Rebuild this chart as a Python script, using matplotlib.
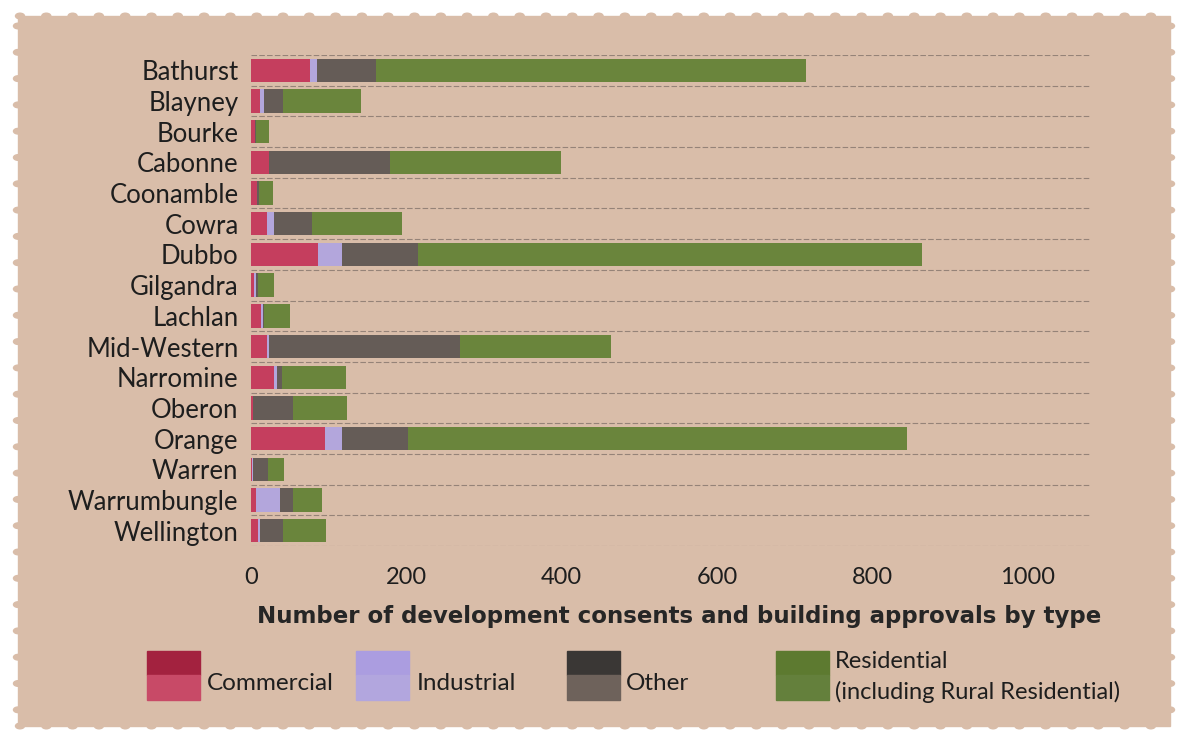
import numpy as np
import matplotlib
matplotlib.use('Agg')
import matplotlib.pyplot as plt
from matplotlib.patches import Rectangle, Circle

plt.rcParams['font.family'] = ['Lato', 'DejaVu Sans']

# data
councils = ['Bathurst', 'Blayney', 'Bourke', 'Cabonne', 'Coonamble', 'Cowra', 'Dubbo',
            'Gilgandra', 'Lachlan', 'Mid-Western', 'Narromine', 'Oberon', 'Orange',
            'Warren', 'Warrumbungle', 'Wellington']
commercial = [76, 12, 5, 23, 8, 20, 86, 4, 13, 20, 29, 2, 95, 1, 6, 9]
industrial = [9, 5, 0, 0, 0, 9, 31, 2, 3, 3, 4, 0, 22, 1, 31, 2]
other = [76, 24, 2, 156, 2, 50, 98, 3, 1, 246, 7, 52, 85, 20, 17, 30]
residential = [553, 100, 16, 220, 18, 115, 649, 21, 33, 195, 82, 69, 642, 20, 37, 55]
x_ticks = [0, 200, 400, 600, 800, 1000]

W, H = 1178, 735
BG = '#d9bda9'
COLORS = {'Commercial': '#c53e5e', 'Industrial': '#b3a6dc',
          'Other': '#655c57', 'Residential': '#6a853c'}
TXT = '#1e1e1e'


def fx(px):
    return px / W


def fy(py):
    return 1 - py / H


fig = plt.figure(figsize=(W / 100, H / 100), dpi=100, facecolor='white')

# stamp shaped backdrop
left, right, top, bottom = 18, 1170, 16, 726
fig.add_artist(Rectangle((fx(left), fy(bottom)), fx(right - left), (bottom - top) / H,
                         transform=fig.transFigure, color=BG, zorder=0))
for px in np.arange(left + 2, right, 26.3):
    for py in (top, bottom):
        fig.add_artist(Circle((fx(px), fy(py)), 4.5 / W, transform=fig.transFigure,
                              color=BG, zorder=0))
for py in np.arange(top + 10, bottom, 26.3):
    for px in (left, right):
        fig.add_artist(Circle((fx(px), fy(py)), 4.5 / W, transform=fig.transFigure,
                              color=BG, zorder=0))

ax = fig.add_axes([fx(251), fy(546), fx(1090 - 251), (546 - 55) / H])
ax.set_facecolor('none')

y = np.arange(len(councils))
lefts = np.zeros(len(councils))
for name, vals in [('Commercial', commercial), ('Industrial', industrial),
                   ('Other', other), ('Residential', residential)]:
    ax.barh(y, vals, left=lefts, height=0.76, color=COLORS[name], zorder=3)
    lefts += np.array(vals)

ax.set_ylim(len(councils) - 0.5, -0.5)
ax.set_xlim(0, 1080)
ax.set_yticks(y)
ax.set_yticklabels(councils, fontsize=18.5, color=TXT)
ax.set_xticks(x_ticks)
ax.set_xticklabels([str(t) for t in x_ticks], fontsize=17, color=TXT)
ax.tick_params(axis='both', length=0)
ax.tick_params(axis='y', pad=9)
ax.tick_params(axis='x', pad=15)
for lbl in ax.get_yticklabels():
    lbl.set_va('center_baseline')
ax.set_yticks(np.arange(-0.5, len(councils)), minor=True)
ax.tick_params(axis='y', which='minor', length=0)
ax.grid(True, axis='y', which='minor', linestyle=(0, (5, 2)), color='#958378',
        linewidth=0.8, zorder=1)
ax.grid(False, axis='x')
for s in ax.spines.values():
    s.set_visible(False)

fig.text(fx(679), fy(617), 'Number of development consents and building approvals by type',
         ha='center', va='center', fontsize=16.5, fontweight='bold', color='#262626',
         family='DejaVu Sans')

# legend drawn by hand, patches are two-tone like the original
legend = [('Commercial', 147, 207, '#a3223f', '#c84a67'),
          ('Industrial', 356, 417, '#ab9de0', '#b2a6de'),
          ('Other', 567, 626, '#3a3735', '#6e625b'),
          ('Residential', 776, 835, '#5d7a30', '#64803c')]
for name, px, tx, c_top, c_bot in legend:
    fig.add_artist(Rectangle((fx(px), fy(675)), 53 / W, 24 / H, transform=fig.transFigure,
                             color=c_top, zorder=2))
    fig.add_artist(Rectangle((fx(px), fy(700)), 53 / W, 25 / H, transform=fig.transFigure,
                             color=c_bot, zorder=2))
    if name == 'Residential':
        fig.text(fx(tx), fy(662), 'Residential', ha='left', va='center',
                 fontsize=17, color=TXT)
        fig.text(fx(tx), fy(692), '(including Rural Residential)', ha='left', va='center',
                 fontsize=17, color=TXT)
    else:
        fig.text(fx(tx), fy(683), name, ha='left', va='center', fontsize=17.5, color=TXT)

fig.savefig('out.png', dpi=100, facecolor='white')
